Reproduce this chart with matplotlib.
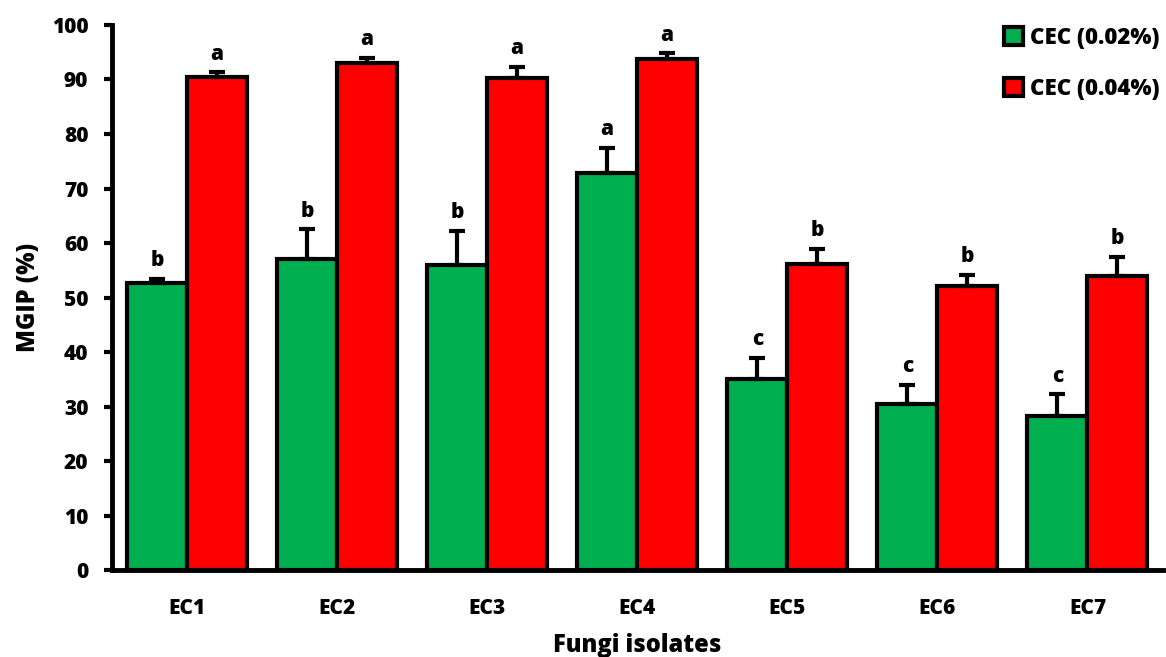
import numpy as np
import matplotlib.pyplot as plt

plt.rcParams['font.family'] = ['Open Sans', 'DejaVu Sans']
plt.rcParams['font.weight'] = 'heavy'

isolates = ['EC1', 'EC2', 'EC3', 'EC4', 'EC5', 'EC6', 'EC7']
low_vals = [52.7, 57.0, 56.0, 72.8, 35.0, 30.5, 28.3]
low_err = [0.8, 5.5, 6.2, 4.7, 4.0, 3.5, 4.0]
low_letters = ['b', 'b', 'b', 'a', 'c', 'c', 'c']
high_vals = [90.5, 93.0, 90.3, 93.8, 56.2, 52.2, 54.0]
high_err = [0.8, 1.0, 2.0, 1.0, 2.8, 2.0, 3.5]
high_letters = ['a', 'a', 'a', 'a', 'b', 'b', 'b']

fig = plt.figure(figsize=(11.66, 6.57), dpi=100)
ax = fig.add_axes([0.096, 0.132, 0.901, 0.83])

x = np.arange(len(isolates))
w = 0.4
err_kw = dict(ecolor='black', elinewidth=3, capsize=6, capthick=3)

ax.bar(x - w / 2, low_vals, w, color='#00b050', edgecolor='black', linewidth=3,
       yerr=[np.zeros(len(low_err)), low_err], error_kw=err_kw, label='CEC (0.02%)', zorder=2)
ax.bar(x + w / 2, high_vals, w, color='#ff0000', edgecolor='black', linewidth=3,
       yerr=[np.zeros(len(high_err)), high_err], error_kw=err_kw, label='CEC (0.04%)', zorder=2)

# significance letters above the error bars
for i in range(len(isolates)):
    ax.text(x[i] - w / 2, low_vals[i] + low_err[i] + 1.4, low_letters[i],
            ha='center', va='bottom', fontsize=15, fontweight='heavy')
    ax.text(x[i] + w / 2, high_vals[i] + high_err[i] + 1.4, high_letters[i],
            ha='center', va='bottom', fontsize=15, fontweight='heavy')

ax.set_xlim(-0.5, len(isolates) - 0.5)
ax.set_ylim(0, 100)
ax.set_yticks(np.arange(0, 101, 10))
ax.set_xticks(x)
ax.set_xticklabels(isolates, fontsize=15, fontweight='heavy')
ax.set_yticklabels([str(v) for v in range(0, 101, 10)], fontsize=15, fontweight='heavy')
ax.tick_params(axis='y', width=3, length=6, direction='out', pad=11)
ax.tick_params(axis='x', length=0, pad=20)

for s in ['top', 'right']:
    ax.spines[s].set_visible(False)
for s in ['left', 'bottom']:
    ax.spines[s].set_linewidth(3.5)

ax.set_ylabel('MGIP (%)', fontsize=17, fontweight='heavy', labelpad=8)
ax.set_xlabel('Fungi isolates', fontsize=17, fontweight='heavy', labelpad=10)

leg = ax.legend(loc='upper right', bbox_to_anchor=(1.016, 1.035), frameon=False,
                handlelength=0.85, handleheight=0.85, handletextpad=0.3,
                labelspacing=1.2, prop={'weight': 'heavy', 'size': 16})
for h in leg.legend_handles:
    h.set_linewidth(3)

fig.savefig('out.png', dpi=100)
